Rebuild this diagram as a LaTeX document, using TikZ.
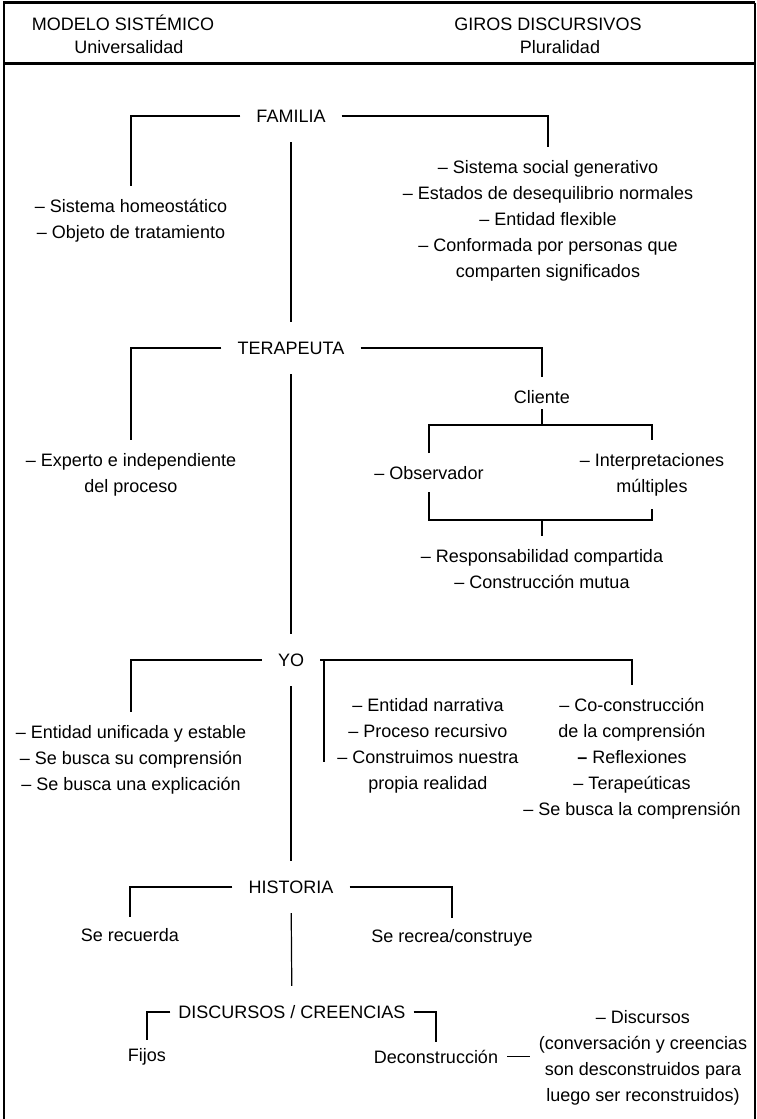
\documentclass[tikz,border=0pt]{standalone}
\usepackage{fontspec}
\setmainfont{Liberation Sans}

\begin{document}
\begin{tikzpicture}[x=1pt,y=-1pt,
  head/.style={font=\fontsize{18}{26}\selectfont,anchor=base,inner sep=0pt},
  title/.style={font=\fontsize{18}{26}\selectfont,text height=13pt,text depth=0pt,inner xsep=16pt,inner ysep=19.5pt},
  item/.style={font=\fontsize{18}{26}\selectfont,align=center,inner sep=0pt,outer xsep=9pt,outer ysep=13pt,anchor=north},
  link/.style={line width=1.2pt}]
\useasboundingbox (0,0) rectangle (757,1119);
\draw[line width=2.5pt] (4,1119) -- (4,2.5) -- (755,2.5);
\draw[line width=1.6pt] (755,2.5) -- (755,1119);
\draw[line width=3pt] (4,63.5) -- (755,63.5);
\node[head] (mod) at (123,30) {MODELO SISTÉMICO};
\node[head] (uni) at (129,53) {Universalidad};
\node[head] (gir) at (548,30) {GIROS DISCURSIVOS};
\node[head] (plu) at (560,53) {Pluralidad};
\node[title] (fam) at (291,116) {FAMILIA};
\node[item] (famL) at (131,186) {– Sistema homeostático\\– Objeto de tratamiento};
\node[item] (famR) at (548,147) {– Sistema social generativo\\– Estados de desequilibrio normales\\– Entidad flexible\\– Conformada por personas que\\comparten significados};
\draw[link] (fam) -| (famL);
\draw[link] (fam) -| (famR);
\node[title] (ter) at (291,348) {TERAPEUTA};
\draw[link] (fam) -- (ter);
\node[item] (terL) at (131,440) {– Experto e independiente\\del proceso};
\node[item] (cli) at (542,377) {Cliente};
\draw[link] (ter) -| (cli);
\node[item] (obs) at (429,453) {– Observador};
\node[item] (int) at (652,440) {– Interpretaciones\\múltiples};
\coordinate (cj) at (542,425);
\draw[link,shorten <=-7pt] (cli) -- (cj);
\draw[link] (obs) |- (cj) -| (int);
\coordinate (cj2) at (542,520);
\draw[link] (obs) |- (cj2) -| (int);
\node[item] (resp) at (542,536) {– Responsabilidad compartida\\– Construcción mutua};
\draw[link] (cj2) -- (resp);
\draw[link] (ter) -| (terL);
\node[title] (yo) at (291,660) {YO};
\draw[link] (ter) -- (yo);
\node[item] (yoL) at (131,712) {– Entidad unificada y estable\\– Se busca su comprensión\\– Se busca una explicación};
\node[item] (yoM) at (428,685) {– Entidad narrativa\\– Proceso recursivo\\– Construimos nuestra\\propia realidad};
\node[item] (yoR) at (632,685) {– Co-construcción\\de la comprensión\\{\bfseries –} Reflexiones\\– Terapeúticas\\– Se busca la comprensión};
\coordinate (yotick) at (324,762);
\draw[link] (yo) -| (yoL);
\draw[link] (yo) -| (yoR);
\draw[link] (yo) -| (yotick);
\node[title] (his) at (291,887) {HISTORIA};
\draw[link] (yo) -- (his);
\node[item,outer ysep=11pt] (hisL) at (130,917) {Se recuerda};
\node[item,outer ysep=11pt] (hisR) at (452,918) {Se recrea/construye};
\draw[link] (his) -| (hisL);
\draw[link] (his) -| (hisR);
\node[title,inner xsep=8pt] (disc) at (292,1012) {DISCURSOS / CREENCIAS};
\draw[link] (his) -- (disc);
\node[item,outer ysep=8pt] (fij) at (147,1040) {Fijos};
\node[item,outer ysep=8pt] (dec) at (436,1042) {Deconstrucción};
\draw[link] (disc) -| (fij);
\draw[link] (disc) -| (dec);
\node[item,anchor=center] (disR) at (643,1058) {– Discursos\\(conversación y creencias\\son desconstruidos para\\luego ser reconstruidos)};
\draw[link] (dec) -- (dec -| disR.west);
\end{tikzpicture}
\end{document}
